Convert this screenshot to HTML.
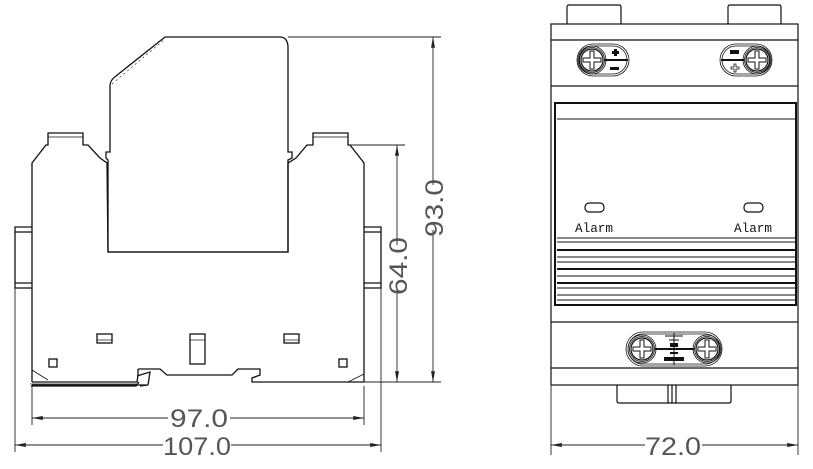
<!DOCTYPE html>
<html><head><meta charset="utf-8"><style>
html,body{margin:0;padding:0;background:#fff;}
svg{display:block;}
.d{font-family:"Liberation Sans",sans-serif;fill:#555;}
.al{font-family:"Liberation Mono",monospace;fill:#111;}
</style></head><body>
<svg width="813" height="469" viewBox="0 0 813 469" xmlns="http://www.w3.org/2000/svg">
<defs>
<marker id="a" markerWidth="12" markerHeight="6" refX="0" refY="3" orient="auto"><path d="M0,3 L12,0.8 L12,5.2Z" fill="#222"/></marker>
<g id="screw">
<circle r="14" fill="none" stroke="#111" stroke-width="0.8"/>
<circle r="12.5" fill="none" stroke="#111" stroke-width="0.8"/>
<circle r="11" fill="none" stroke="#111" stroke-width="1.2"/>
<path d="M-2,-9 H2 V-2 H9 V2 H2 V9 H-2 V2 H-9 V-2 H-2Z" fill="none" stroke="#111" stroke-width="1"/>
</g>
</defs>
<g fill="none" stroke="#111" stroke-width="1.3">
<path d="M108,252 V160 L106,158 V152 H110 V86 Q110,80 116,76 L165,37 H280 Q287,37 288,46 V152 H292 V158 L288,160 V252 Z"/>
<path d="M112,84 L165,39" stroke-width="0.6" stroke-dasharray="2,3"/>
<path d="M32,382 V163 L46,145 H48 V133 H83 V145 H88 L100,158 L107,163 L108,252 H288 L288,163 L296,158 L307,145 H313 V133 H348 V145 H350 L364,163 V382"/>
<path d="M48,137 H83 M313,137 H348" stroke-width="0.8"/>
<path d="M32,382 H137 L138,375 V369 M137,376 L150,372 L148,385 M32,385 H148 L140,386 M31,386 H136 L139,382"/>
<path d="M30,384 H137" stroke-width="0.8"/>
<path d="M138,369 H160 L167,375 H232 L238,369 H260 V375 L252,378 V382 H364"/>
<path d="M348,382 L364,374" stroke-width="0.8"/>
<path d="M32,370 L48,380" stroke-width="0.8"/>
<path d="M32,227 H15 V288 H32 M15,232 H32 M15,283 H32"/>
<path d="M364,227 H381 V288 H364 M364,232 H381 M364,283 H381"/>
<rect x="97" y="334" width="15" height="9"/><path d="M97,340 H112" stroke-width="0.7"/>
<rect x="284" y="334" width="15" height="9"/><path d="M284,340 H299" stroke-width="0.7"/>
<rect x="190" y="334" width="15" height="30"/><path d="M190,340 H205" stroke-width="0.7"/>
<rect x="49" y="359" width="8" height="8"/>
<rect x="339" y="359" width="8" height="8"/>
</g>
<g stroke="#222" stroke-width="0.9" fill="none">
<path d="M288,37 H441 M364,382 H441 M350,145 H405"/>
<path d="M32,386 V425 M364,386 V425 M15,288 V452 M381,288 V452"/>
<path d="M433,382 V230" marker-start="url(#a)"/>
<path d="M433,37 V185" marker-start="url(#a)"/>
<path d="M397,145 V245" marker-start="url(#a)"/>
<path d="M397,382 V290" marker-start="url(#a)"/>
<path d="M32,418 H168" marker-start="url(#a)"/>
<path d="M364,418 H230" marker-start="url(#a)"/>
<path d="M15,445 H163" marker-start="url(#a)"/>
<path d="M381,445 H231" marker-start="url(#a)"/>
</g>
<text class="d" x="199" y="427" font-size="25" text-anchor="middle" textLength="58" lengthAdjust="spacingAndGlyphs">97.0</text>
<text class="d" x="197" y="455" font-size="25" text-anchor="middle" textLength="68" lengthAdjust="spacingAndGlyphs">107.0</text>
<text class="d" transform="translate(443,208) rotate(-90)" font-size="25" text-anchor="middle" textLength="58" lengthAdjust="spacingAndGlyphs">93.0</text>
<text class="d" transform="translate(407,266) rotate(-90)" font-size="25" text-anchor="middle" textLength="58" lengthAdjust="spacingAndGlyphs">64.0</text>

<g fill="none" stroke="#111" stroke-width="1.2">
<path d="M567,24 V7 Q567,5 569,5 H619 Q621,5 621,7 V24"/>
<path d="M728,24 V7 Q728,5 730,5 H779 Q781,5 781,7 V24"/>
<rect x="551" y="24" width="247" height="361"/>
<path d="M551,40 H798 M551,86 H798 M551,322 H798 M551,368 H798"/>
<rect x="555" y="103" width="241" height="202" stroke-width="2"/>
<path d="M551,103 V305 M557,119 H796" stroke-width="1"/>
<path d="M557,238 H796 M557,242 H796 M557,250 H796 M557,257 H796 M557,262 H796 M557,269 H796 M557,276 H796 M557,283 H796 M557,288 H796 M557,295 H796 M557,300 H796" stroke-width="1"/>
<path d="M557,250 H796 M557,269 H796 M557,283 H796" stroke-width="2"/>
<rect x="585" y="203" width="19" height="9" rx="4"/>
<rect x="744" y="203" width="19" height="9" rx="4"/>
<path d="M617,385 V401 Q617,403 619,403 H729 Q731,403 731,401 V385 M668,385 V403 M672,385 V403 M676,385 V403"/>
<rect x="577" y="44" width="52" height="32" rx="16" stroke-width="0.8"/>
<rect x="579" y="46" width="48" height="28" rx="14" stroke-width="0.8"/>
<rect x="720" y="44" width="52" height="32" rx="16" stroke-width="0.8"/>
<rect x="722" y="46" width="48" height="28" rx="14" stroke-width="0.8"/>
<path d="M604,60 H628 M721,60 H744" stroke-width="2"/>
<rect x="626" y="332" width="96" height="34" rx="17" stroke-width="0.8"/>
<rect x="628" y="334" width="92" height="30" rx="15" stroke-width="0.8"/>
<path d="M655,349 H694" stroke-width="2"/>
<path d="M665,336 H683 M669,340 H679 M674,333 V365" stroke-width="1"/>
</g>
<use href="#screw" x="592" y="60"/>
<use href="#screw" x="757" y="60"/>
<use href="#screw" x="642" y="349"/>
<use href="#screw" x="707" y="349"/>
<g fill="#111">
<path d="M612,51 h2 v-2 h3 v2 h2 v3 h-2 v2 h-3 v-2 h-2z"/>
<rect x="610" y="67" width="9" height="3"/>
<rect x="730" y="50" width="9" height="4"/>
<path d="M731,67 h3 v-3 h2 v3 h3 v2 h-3 v3 h-2 v-3 h-3z" fill="none" stroke="#111" stroke-width="0.8"/>
<rect x="670" y="343" width="8" height="4"/>
<rect x="670" y="352" width="8" height="2"/>
<rect x="664" y="357" width="20" height="4"/>
</g>
<text class="al" x="575" y="232" font-size="13" textLength="38" lengthAdjust="spacingAndGlyphs">Alarm</text>
<text class="al" x="734" y="232" font-size="13" textLength="38" lengthAdjust="spacingAndGlyphs">Alarm</text>
<g stroke="#222" stroke-width="0.9" fill="none">
<path d="M551,385 V455 M798,385 V455"/>
<path d="M551,445 H645" marker-start="url(#a)"/>
<path d="M798,445 H702" marker-start="url(#a)"/>
</g>
<text class="d" x="673" y="455" font-size="25" text-anchor="middle" textLength="56" lengthAdjust="spacingAndGlyphs">72.0</text>
</svg>
</body></html>
